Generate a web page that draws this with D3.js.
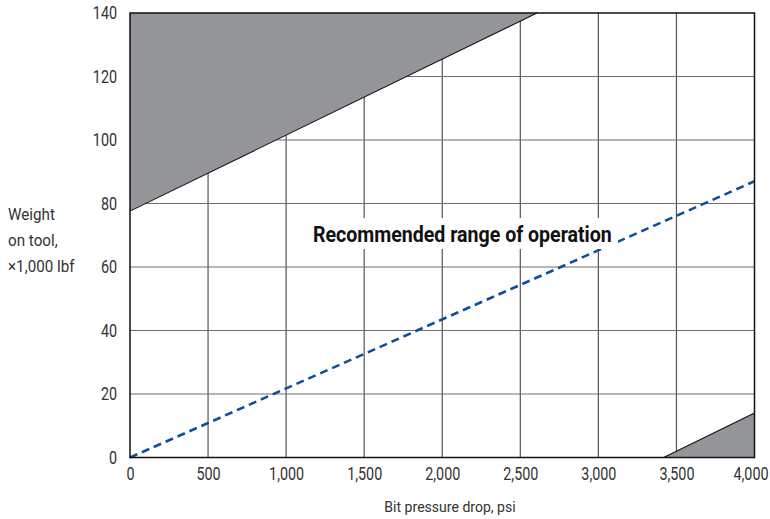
<!DOCTYPE html>
<html><head><meta charset="utf-8">
<script src="https://cdn.jsdelivr.net/npm/d3@7"></script>
<style>body{margin:0;background:#fff}</style>
</head><body>
<svg id="c" width="770" height="519"></svg>
<script>
const xTicks = [0, 500, 1000, 1500, 2000, 2500, 3000, 3500, 4000];
const yTicks = [0, 20, 40, 60, 80, 100, 120, 140];
// upper excluded region boundary (psi, klbf)
const upperBoundary = [[0, 77.6], [2607, 140]];
// lower excluded region boundary
const lowerBoundary = [[3418, 0], [4000, 14]];
// recommended operating line
const recommended = [[0, 0], [4000, 87]];
const labelText = "Recommended range of operation";
const yTitle = ["Weight", "on tool,", "\u00d71,000 lbf"];
const xTitle = "Bit pressure drop, psi";

const svg = d3.select("#c");
const L = 130, R = 754.5, T = 13, B = 457.5;
const x = d3.scaleLinear().domain([0, 4000]).range([L, R]);
const y = d3.scaleLinear().domain([0, 140]).range([B, T]);
const font = "Roboto,'DejaVu Sans Condensed',Arial,sans-serif";

// horizontal condensing around each text's anchor point
function condense(sel, f) {
  sel.each(function () {
    const x0 = +(this.getAttribute("x") || 0);
    d3.select(this).attr("transform", `translate(${x0},0) scale(${f},1) translate(${-x0},0)`);
  });
}

// grid
svg.append("g").selectAll("line").data(xTicks.slice(1, -1)).join("line")
  .attr("x1", d => x(d)).attr("x2", d => x(d)).attr("y1", T).attr("y2", B)
  .attr("stroke", "#555").attr("stroke-width", 1.2);
svg.append("g").selectAll("line").data(yTicks.slice(1, -1)).join("line")
  .attr("x1", L).attr("x2", R).attr("y1", d => y(d)).attr("y2", d => y(d))
  .attr("stroke", "#6e6e6e").attr("stroke-width", 1.2);

// shaded regions (cover grid)
const upperPoly = [[0, 140], upperBoundary[0], upperBoundary[1]];
const lowerPoly = [lowerBoundary[0], [4000, 0], lowerBoundary[1]];
const fillCol = "#939598";
[upperPoly, lowerPoly].forEach(p => {
  svg.append("path")
    .attr("d", d3.line().x(d => x(d[0])).y(d => y(d[1]))(p) + "Z")
    .attr("fill", fillCol);
});

// boundary lines
[upperBoundary, lowerBoundary].forEach(p => {
  svg.append("line")
    .attr("x1", x(p[0][0])).attr("y1", y(p[0][1]))
    .attr("x2", x(p[1][0])).attr("y2", y(p[1][1]))
    .attr("stroke", "#111").attr("stroke-width", 1.1);
});

// recommended line
svg.append("path")
  .attr("d", d3.line().x(d => x(d[0])).y(d => y(d[1]))(recommended))
  .attr("fill", "none").attr("stroke", "#0d4f9a").attr("stroke-width", 2.6)
  .attr("stroke-dasharray", "8,5");

// label box
svg.append("rect").attr("x", 304).attr("y", 218).attr("width", 314).attr("height", 31)
  .attr("fill", "#fff");
const lab = svg.append("text").attr("x", 313).attr("y", 242.5).text(labelText)
  .attr("font-family", font).attr("font-weight", "bold").attr("font-size", 22.5)
  .attr("fill", "#111");
{
  const w = lab.node().getComputedTextLength();
  lab.call(condense, 299 / w);
}

// frame
svg.append("rect").attr("x", L).attr("y", T).attr("width", R - L).attr("height", B - T)
  .attr("fill", "none").attr("stroke", "#111").attr("stroke-width", 1.5);

// axes
const xAxis = d3.axisBottom(x).tickValues(xTicks).tickSize(0).tickPadding(10)
  .tickFormat(d3.format(","));
const gx = svg.append("g").attr("transform", `translate(0,${B})`).call(xAxis);
gx.select(".domain").remove();
gx.selectAll("text").attr("font-family", font).attr("font-size", 17.5).attr("fill", "#333")
  .attr("x", d => d === 4000 ? -4 : 0)
  .call(condense, 0.82);

const yAxis = d3.axisLeft(y).tickValues(yTicks).tickSize(0).tickPadding(13);
const gy = svg.append("g").attr("transform", `translate(${L},0)`).call(yAxis);
gy.select(".domain").remove();
gy.selectAll("text").attr("font-family", font).attr("font-size", 17.5).attr("fill", "#333")
  .call(condense, 0.82);

// titles
svg.append("text").attr("x", 450).attr("y", 512).attr("text-anchor", "middle")
  .attr("font-family", font).attr("font-size", 14.5).attr("fill", "#333").text(xTitle)
  .call(condense, 0.97);
yTitle.forEach((t, i) => {
  svg.append("text").attr("x", 8).attr("y", 220 + i * 26)
    .attr("font-family", font).attr("font-size", 16).attr("fill", "#333").text(t)
    .call(condense, 0.95);
});
</script>
</body></html>
